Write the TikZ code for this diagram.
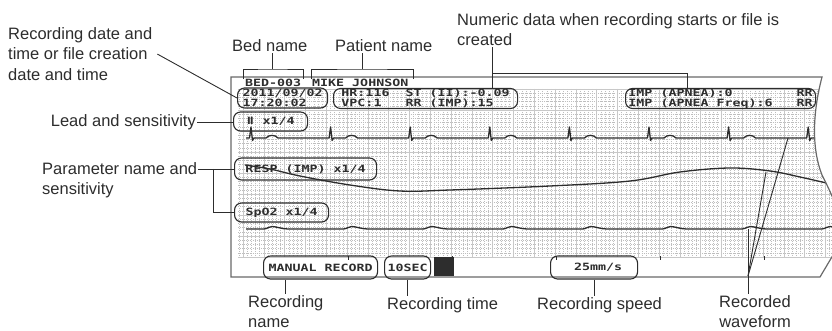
\documentclass[tikz,border=0pt]{standalone}
\usepackage{fontspec}
\setmainfont{Liberation Sans}
\newfontfamily\recfont[FakeStretch=1.33]{DejaVu Sans Mono}
\newfontfamily\numeralfont{DejaVu Sans}
\definecolor{inkgray}{RGB}{45,45,45}
\definecolor{edgegray}{RGB}{105,105,105}
\definecolor{gridgray}{RGB}{200,200,200}
\definecolor{dotgray}{RGB}{190,190,190}

\begin{document}
\begin{tikzpicture}[x=1pt, y=-1pt,
    lbl/.style={font=\fontsize{16.5}{20.5}\selectfont, text=inkgray, inner sep=1pt},
    rectxt/.style={font=\recfont\bfseries\fontsize{10}{9.5}\selectfont, text=inkgray, inner sep=0pt},
    recbox/.style={rectxt, draw=inkgray, line width=1.1pt, rounded corners=7pt, anchor=west},
    lead/.style={draw=inkgray, line width=0.9pt},
    wave/.style={draw=inkgray, line width=1.3pt, line join=round},
    minorgrid/.style={draw=dotgray, line width=0.3pt, dash pattern=on 0.5pt off 1.58pt},
    majorgrid/.style={draw=gridgray, line width=0.5pt},
    paper/.style={draw=edgegray, line width=1.2pt}]
    \useasboundingbox (0,0) rectangle (832,331);

    % recorder paper with grid and waveforms
    \begin{scope}
        \clip (231,77) -- (822,77) .. controls (812,115) and (812,150) .. (822,175)
            .. controls (832,195) and (842,215) .. (842,240) -- (820,277) -- (231,277) -- cycle;
        \foreach \x in {238.84,243,...,840} \draw[minorgrid] (\x,89) -- (\x,257);
        \foreach \y in {89,93.2,...,257.5} \draw[minorgrid] (238,\y) -- (840,\y);
        \foreach \x in {243,263.8,...,840} \draw[majorgrid] (\x,89) -- (\x,257);
        \foreach \y in {89,110,...,257.5} \draw[majorgrid] (238,\y) -- (840,\y);
        \foreach \x in {348,452,556,660,764} \draw[lead] (\x,256) -- (\x,260);
        % ECG
        \draw[wave] (246,138) \foreach \x in {251,330.6,410.2,489.8,569.4,649,728.6,808.2} {
            -- (\x-1.5,138) -- (\x,127) -- (\x+1.5,140.5) -- (\x+3,138) -- (\x+15,138)
            .. controls (\x+18,134.5) and (\x+24,134.5) .. (\x+27,138) } -- (840,138);
        % RESP
        \draw[wave] plot[smooth, tension=0.6] coordinates {(245,165) (270,169) (300,176)
            (350,185) (400,191) (450,190) (550,186) (630,181) (680,172) (730,168)
            (770,171) (800,177) (835,185)};
        % SpO2
        \draw[wave] (246,229) \foreach \x in {272,351.7,431.4,511.1,590.8,670.5,750.2,829.9} {
            -- (\x-8,229) .. controls (\x-4,228.5) and (\x-3,226.5) .. (\x,226.5)
            .. controls (\x+4,226.5) and (\x+10,229) .. (\x+16,229) } -- (840,229);
    \end{scope}
    \draw[paper] (231,77) -- (822,77) .. controls (812,115) and (812,150) .. (822,175)
        .. controls (832,195) and (842,215) .. (842,240) -- (820,277) -- (231,277) -- cycle;

    % printed header and boxes
    \node[rectxt, anchor=base west] (bedtxt) at (245,87) {BED-003};
    \node[rectxt, anchor=base west] (patienttxt) at (312,87) {MIKE~JOHNSON};
    \node[recbox, align=left, minimum width=90pt, minimum height=20pt] (boxdate) at (237,98) {2011/09/02\\17:20:02};
    \node[recbox, align=left, minimum width=184pt, minimum height=20pt] (boxvital) at (333,98.5)
        {HR:116~~ST~(II):-0.09\\VPC:1~~~RR~(IMP):15};
    \node[recbox, align=left, minimum width=190pt, minimum height=20pt] (boxapnea) at (625,98.5)
        {IMP~(APNEA):0~~~~~~~~RR\\IMP~(APNEA~Freq):6~~~RR};
    \node[recbox, minimum width=74pt, minimum height=19pt] (boxlead) at (233,121.5)
        {\makebox[8pt]{\numeralfont\bfseries Ⅱ}~x1/4};
    \node[recbox, minimum width=142pt, minimum height=22pt] (boxresp) at (234,169) {RESP~(IMP)~x1/4};
    \node[recbox, minimum width=94pt, minimum height=19pt] (boxspo2) at (234,212.5) {SpO2~x1/4};
    \node[recbox, minimum width=114pt, minimum height=23pt] (boxmanual) at (263,267.5) {MANUAL~RECORD};
    \node[recbox, minimum width=46pt, minimum height=23pt] (boxtime) at (384,267.5) {10SEC};
    \node[recbox, minimum width=87pt, minimum height=23pt] (boxspeed) at (550,267.5) {\hspace{8pt}25mm/s};
    \fill[inkgray] (434,257) rectangle (454,276);

    % labels (base anchor of a multi-line node is its last line)
    \node[lbl, anchor=base west, align=left] (lbldate) at (7,80.5) {Recording date and\\time or file creation\\date and time};
    \node[lbl, anchor=base west] (lblbed) at (231,52) {Bed name};
    \node[lbl, anchor=base west] (lblpatient) at (334,52) {Patient name};
    \node[lbl, anchor=base west, align=left] (lblnumeric) at (456,46) {Numeric data when recording starts or file is\\created};
    \node[lbl, anchor=base east] (lbllead) at (197,127) {Lead and sensitivity};
    \node[lbl, anchor=base west, align=left] (lblparam) at (41,194.5) {Parameter name and\\sensitivity};
    \node[lbl, anchor=base west, align=left] (lblrecname) at (247,327.5) {Recording\\name};
    \node[lbl, anchor=base west] (lbltime) at (386,309) {Recording time};
    \node[lbl, anchor=base west] (lblspeed) at (536,309) {Recording speed};
    \node[lbl, anchor=base, align=center] (lblwave) at (755,327.5) {Recorded\\waveform};

    % brackets and leader lines
    \coordinate (bedL) at (243,79);
    \coordinate (bedR) at (303,79);
    \coordinate (bedtop) at (272,69);
    \coordinate (patL) at (311,79);
    \coordinate (patR) at (413,79);
    \coordinate (pattop) at (362,69);
    \coordinate (numtop) at (492,73);
    \coordinate (numR) at (687,73);
    \coordinate (wfapex) at (748,276);
    \coordinate (wfecg) at (788,138);
    \coordinate (wfresp) at (766,172);
    \coordinate (wfspo2) at (748,229);

    \draw[lead] (bedL) |- (bedtop) -| (bedR);
    \draw[lead] (lblbed.south -| bedtop) -- (bedtop);
    \draw[lead] (patL) |- (pattop) -| (patR);
    \draw[lead] (lblpatient.south -| pattop) -- (pattop);
    \draw[lead] (lblnumeric.south -| numtop) -- (numtop |- boxvital.north);
    \draw[lead] (numtop) -| (numR |- boxapnea.north);
    \draw[lead] ([xshift=4pt]lbldate.east) -- (boxdate.west);
    \draw[lead] (lbllead.east) -- (lbllead.east -| boxlead.west);
    \draw[lead] (boxresp.west -| lblparam.east) -- (boxresp.west);
    \path (boxresp.west) ++(-21,0) coordinate (pjoin);
    \draw[lead] (pjoin) |- (boxspo2.west);
    \draw[lead] (boxmanual.south -| lblrecname.north) -- (lblrecname.north);
    \draw[lead] (boxtime.south) -- (boxtime.south |- lbltime.north);
    \draw[lead] (boxspeed.south) -- (boxspeed.south |- lblspeed.north);
    \draw[lead] (lblwave.north -| wfapex) -- (wfspo2);
    \draw[lead] (wfapex) -- (wfresp);
    \draw[lead] (wfapex) -- (wfecg);
\end{tikzpicture}
\end{document}
